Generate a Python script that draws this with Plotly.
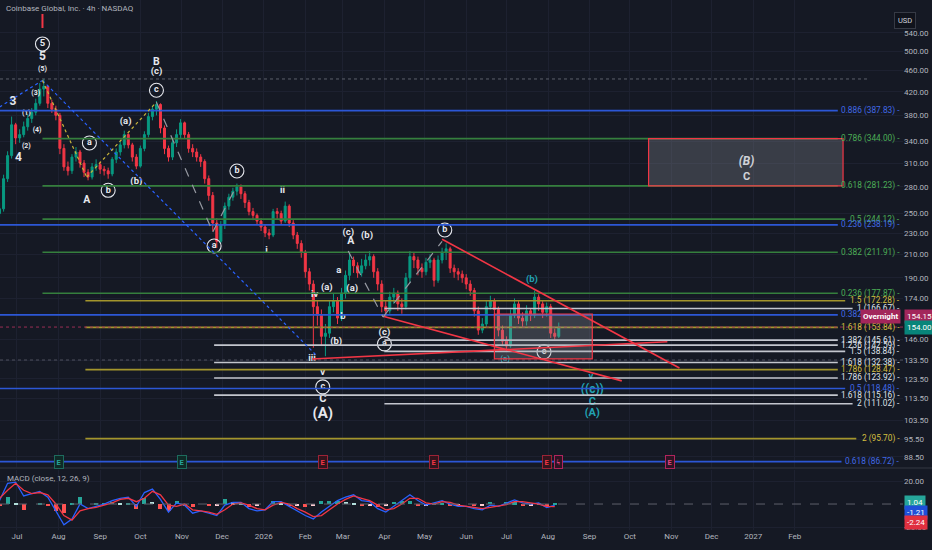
import numpy as np
import pandas as pd
import plotly.graph_objects as go

BG = "#151924"
GRID = "#1d2130"
TXT = "#b2b5be"
UP = "#089981"
DOWN = "#f23645"
TEAL = "#22a3b3"
LABEL = "#e6e8ee"

# 4h chart, every 3 days
bar_dates = pd.date_range("2025-06-18", periods=140, freq="3D")
closes = [255, 290, 320, 365, 345, 350, 362, 375, 385, 400, 425, 430, 400, 390, 380, 330, 305, 300, 318, 325,
          310, 298, 292, 305, 308, 302, 300, 296, 315, 325, 335, 350, 335, 318, 306, 330, 350, 378, 390, 398,
          360, 330, 318, 338, 350, 368, 350, 330, 325, 318, 312, 290, 270, 240, 222, 238, 258, 268, 275, 280,
          272, 262, 252, 248, 242, 236, 230, 228, 252, 250, 242, 258, 240, 228, 220, 212, 195, 185, 168, 162,
          148, 150, 168, 172, 160, 178, 192, 205, 200, 194, 200, 205, 208, 195, 185, 168, 165, 175, 178, 170,
          168, 190, 208, 205, 198, 195, 203, 205, 188, 205, 212, 215, 198, 195, 193, 190, 185, 180, 165, 152,
          156, 168, 172, 166, 152, 145, 142, 162, 170, 160, 158, 165, 162, 175, 170, 164, 168, 150, 148, 154]
highs = [262, 295, 326, 378, 368, 358, 370, 382, 392, 408, 436, 444, 432, 406, 396, 384, 336, 312, 322, 332,
         328, 314, 302, 310, 315, 312, 306, 304, 318, 330, 340, 356, 352, 338, 322, 334, 355, 384, 396, 404,
         400, 364, 334, 344, 358, 374, 370, 354, 336, 330, 322, 315, 294, 274, 245, 242, 262, 272, 279, 284,
         283, 275, 265, 256, 250, 245, 239, 234, 255, 256, 253, 263, 260, 243, 231, 223, 214, 198, 188, 172,
         166, 156, 172, 178, 175, 182, 196, 211, 208, 203, 206, 210, 213, 210, 198, 188, 172, 179, 182, 180,
         174, 194, 213, 212, 208, 202, 207, 210, 207, 209, 216, 220, 217, 201, 198, 196, 193, 188, 182, 168,
         160, 172, 176, 174, 168, 155, 148, 166, 174, 172, 164, 169, 167, 180, 177, 172, 171, 170, 153, 157]
lows = [246, 252, 286, 316, 336, 338, 346, 356, 368, 380, 396, 412, 392, 384, 372, 322, 300, 294, 296, 312,
        304, 292, 288, 289, 300, 296, 294, 290, 293, 310, 320, 330, 330, 312, 302, 304, 326, 346, 372, 380,
        352, 322, 312, 314, 332, 344, 344, 324, 318, 312, 305, 284, 264, 232, 216, 220, 234, 254, 264, 270,
        266, 256, 248, 243, 238, 232, 226, 224, 226, 244, 238, 240, 236, 224, 215, 207, 190, 180, 141, 155,
        142, 136, 147, 164, 156, 158, 174, 188, 194, 190, 191, 197, 200, 190, 180, 164, 161, 163, 170, 165,
        163, 166, 186, 198, 192, 190, 192, 198, 183, 186, 202, 205, 194, 190, 188, 186, 181, 176, 161, 149,
        150, 154, 166, 160, 148, 142, 139, 141, 160, 156, 154, 155, 158, 160, 165, 160, 161, 147, 146, 147]
opens = [250] + closes[:-1]

# MACD (12, 26, 9), every second bar
macd_dates = bar_dates[::2]
macd_line = [3, 18, 19, 7, 9, 11, 6, -6, -18, -13, 0, -4, -2, 0, 3, 5, 6, -2, 10, 13,
             4, -7, 1, -1, -8, -6, -8, -10, -1, 1.5, 1.5, -4, -6, -5, 2, 2, -2, -6, -10, -13,
             -7, -2, 3, 6, 8, 3, 2, -4, -7, -2, 3, 8, 3, -1, 1, 3, 0, -2, -2, -4,
             -5, -1, -2, 1, 3.5, 1, 0, 1, -3, -1.21]
signal_line = [5, 12, 18, 12, 9, 10, 8, 0, -10, -14, -6, -4, -3, -1, 1, 4, 5, 2, 5, 11,
               8, -1, -2, 0, -5, -6, -7, -9, -5, 0, 1, -1, -4, -5, -1, 1.5, 0, -4, -7, -11,
               -10, -5, 0, 4, 7, 5, 3, -1, -5, -4, 0, 5, 5, 1, 0, 2, 1.5, -1, -2, -3,
               -4, -3, -2, -0.5, 2, 2, 1, 0, -2, -2.24]

# Fibonacci levels drawn on the chart
fib_values = [387.83, 344.00, 281.23, 244.12, 238.19, 211.91, 177.87, 172.28, 166.67, 162.21, 153.84,
              145.61, 142.59, 138.84, 132.38, 128.47, 123.92, 118.48, 115.16, 111.02, 95.70, 86.72]
fib_ratios = ["0.886", "0.786", "0.618", "0.5", "0.236", "0.382", "0.236", "1.5", "1", "0.382", "1.618",
              "1.382", "1.236", "1.5", "1.618", "1.786", "1.786", "0.5", "1.618", "2", "2", "0.618"]
fib_sets = ["blue", "green", "green", "green", "blue", "green", "green", "yellow", "white2", "blue", "yellow",
            "white2", "white1", "white2", "white1", "yellow", "white1", "blue", "white1", "white2", "yellow", "blue"]

set_color = {"blue": "#2c57d6", "green": "#357f3d", "yellow": "#a3952c", "white1": "#c3c6ce", "white2": "#c3c6ce"}
set_text = {"blue": "#4169e6", "green": "#4cae56", "yellow": "#d4bf40", "white1": "#dfe1e8", "white2": "#dfe1e8"}
set_start = {"blue": "2025-06-18", "green": "2025-07-20", "yellow": "2025-08-21",
             "white1": "2025-11-25", "white2": "2026-04-01"}

x_lo = pd.Timestamp("2025-06-18 08:00")
x_hi = pd.Timestamp("2027-04-22 17:00")
plot_px = 903.0
FS = 8  # small TradingView label size


def x_at(px):
    return x_lo + (x_hi - x_lo) * (px / plot_px)


fig = go.Figure()

fig.add_trace(go.Candlestick(
    x=bar_dates, open=opens, high=highs, low=lows, close=closes,
    increasing=dict(line=dict(color=UP, width=1), fillcolor=UP),
    decreasing=dict(line=dict(color=DOWN, width=1), fillcolor=DOWN),
    whiskerwidth=0, showlegend=False, hoverinfo="skip",
))

hist = [m - s for m, s in zip(macd_line, signal_line)]
hist_colors = []
for i, h in enumerate(hist):
    prev = hist[i - 1] if i else 0
    if h >= 0:
        hist_colors.append("#26a69a" if h >= prev else "#b2dfdb")
    else:
        hist_colors.append("#ff5252" if h < prev else "#ffcdd2")

fig.add_trace(go.Bar(x=macd_dates, y=hist, marker_color=hist_colors, marker_line_width=0,
                     width=3 * 86400000, yaxis="y2", showlegend=False, hoverinfo="skip"))
fig.add_trace(go.Scatter(x=macd_dates, y=macd_line, mode="lines", line=dict(color="#2962ff", width=1.3),
                         yaxis="y2", showlegend=False, hoverinfo="skip"))
fig.add_trace(go.Scatter(x=macd_dates, y=signal_line, mode="lines", line=dict(color="#f23645", width=1.3),
                         yaxis="y2", showlegend=False, hoverinfo="skip"))

shapes = []
annotations = []

# fib lines + right-hand labels
for val, ratio, s in zip(fib_values, fib_ratios, fib_sets):
    text = f"{ratio} ({val:.2f}) -"
    end_px = 897 - 3.7 * len(text)
    shapes.append(dict(type="line", xref="x", yref="y", x0=set_start[s], x1=x_at(end_px), y0=val, y1=val,
                       line=dict(color=set_color[s], width=1.7)))
    annotations.append(dict(xref="paper", yref="y", x=902 / 932, y=np.log10(val), xanchor="right",
                            yanchor="middle", text=text, showarrow=False,
                            font=dict(size=8.3, color=set_text[s], family="Roboto")))

# dotted price lines
for val, col, x1 in [(443.8, "#5d606b", 870), (154.0, "#9a2f55", 903), (133.8, "#4e515c", 903)]:
    shapes.append(dict(type="line", xref="x", yref="y", x0=x_lo, x1=x_at(x1), y0=val, y1=val,
                       line=dict(color=col, width=1, dash="dot")))

# target boxes
for x0, x1, y0, y1 in [("2026-10-15", "2027-03-09", 281.23, 344.0), ("2026-06-22", "2026-09-03", 134.4, 162.8)]:
    shapes.append(dict(type="rect", xref="x", yref="y", x0=x0, x1=x1, y0=y0, y1=y1,
                       fillcolor="rgba(150,153,163,0.28)", line=dict(color="#f23645", width=1.2)))

# trend lines
for x0, y0, x1, y1 in [("2026-05-14", 224, "2026-11-07", 129.3),
                       ("2026-03-31", 161.3, "2026-09-25", 122.4),
                       ("2026-02-06", 134.4, "2026-10-29", 144.6)]:
    shapes.append(dict(type="line", xref="x", yref="y", x0=x0, y0=y0, x1=x1, y1=y1,
                       line=dict(color="#f23645", width=1.6)))

# wave connectors
paths = [
    ([("2025-06-18", 393.8), ("2025-07-20", 441), ("2026-02-09", 136.7)], "#2962ff", "dot"),
    ([("2025-07-20", 441), ("2025-08-22", 292), ("2025-10-13", 402)], "#c9b53a", "dot"),
    ([("2025-10-13", 402), ("2025-11-24", 231), ("2025-12-12", 282)], "#9598a1", "dash"),
    ([("2026-03-05", 213), ("2026-03-31", 160.7), ("2026-05-14", 222)], "#9598a1", "dash"),
]
for pts, col, dash in paths:
    for (xa, ya), (xb, yb) in zip(pts[:-1], pts[1:]):
        shapes.append(dict(type="line", xref="x", yref="y", x0=xa, y0=ya, x1=xb, y1=yb,
                           line=dict(color=col, width=1.2, dash=dash)))

# pane separator, macd zero line, alert tick
shapes.append(dict(type="line", xref="paper", yref="paper", x0=0, x1=1, y0=1 - 468 / 550, y1=1 - 468 / 550,
                   line=dict(color="#2a2e39", width=1.5)))
shapes.append(dict(type="line", xref="paper", yref="y2", x0=0, x1=plot_px / 932, y0=0, y1=0,
                   line=dict(color="#5d606b", width=1, dash="dash")))
shapes.append(dict(type="line", xref="x", yref="paper", x0="2025-07-20", x1="2025-07-20",
                   y0=1 - 14 / 550, y1=1 - 28 / 550, line=dict(color="#f23645", width=2)))

# Elliott wave labels: date, price, text, size, colour, circled
waves = [
    ("2025-07-20", 515.3, "5", 9.5, LABEL, True), ("2025-07-20", 487.5, "5", 12, LABEL, False),
    ("2025-07-20", 463, "(5)", 7, LABEL, False), ("2025-06-28", 402, "3", 12, LABEL, False),
    ("2025-07-15", 418, "(3)", 7, LABEL, False), ("2025-07-08", 383.8, "(1)", 7, LABEL, False),
    ("2025-07-16", 357, "(4)", 7, LABEL, False), ("2025-07-08", 333.5, "(2)", 7, LABEL, False),
    ("2025-07-02", 316.8, "4", 12, LABEL, False), ("2025-08-24", 337.8, "a", 9, LABEL, True),
    ("2025-09-20", 369.4, "(a)", 9.5, LABEL, False), ("2025-09-07", 276, "b", 9, LABEL, True),
    ("2025-09-28", 286, "(b)", 9.5, LABEL, False), ("2025-08-22", 264.8, "A", 10.5, LABEL, False),
    ("2025-10-13", 477, "B", 10.5, LABEL, False), ("2025-10-13", 457, "(c)", 9.5, LABEL, False),
    ("2025-10-13", 423, "c", 9, LABEL, True), ("2025-11-25", 217.6, "a", 9, LABEL, True),
    ("2025-12-12", 299.7, "b", 9, LABEL, True), ("2026-01-15", 276, "ii", 9.5, LABEL, False),
    ("2026-01-03", 213.2, "i", 9.5, LABEL, False), ("2026-03-05", 230, "(c)", 9.5, LABEL, False),
    ("2026-03-07", 222.3, "A", 10.5, LABEL, False), ("2026-03-19", 227, "(b)", 9.5, LABEL, False),
    ("2026-02-26", 195.7, "a", 9.5, LABEL, False), ("2026-05-16", 233, "b", 9, LABEL, True),
    ("2026-02-08", 176.8, "iv", 9.5, LABEL, False), ("2026-02-17", 181.9, "(a)", 9.5, LABEL, False),
    ("2026-03-08", 181.2, "(a)", 9.5, LABEL, False), ("2026-03-01", 160.9, "b", 9.5, LABEL, False),
    ("2026-02-24", 144.6, "(b)", 9.5, LABEL, False), ("2026-02-06", 134.4, "iii", 9.5, LABEL, False),
    ("2026-02-14", 126.6, "v", 9.5, LABEL, False), ("2026-02-14", 119.3, "c", 9, LABEL, True),
    ("2026-02-14", 113.3, "C", 11, LABEL, False), ("2026-02-14", 106.3, "(A)", 15, LABEL, False),
    ("2026-04-01", 150.1, "(c)", 9.5, LABEL, False), ("2026-04-01", 143.3, "a", 9, LABEL, True),
    ("2026-07-20", 188.3, "(b)", 9.5, TEAL, False), ("2026-06-30", 134.4, "(a)", 8, TEAL, False),
    ("2026-07-29", 138.5, "c", 9, LABEL, True), ("2026-09-02", 124.4, "v", 9.5, TEAL, False),
    ("2026-09-03", 117.7, "((c))", 12, TEAL, False), ("2026-09-03", 111.9, "C", 11, TEAL, False),
    ("2026-09-03", 106.8, "(A)", 11, TEAL, False),
    ("2026-12-27", 311.5, "<i>(B)</i>", 12, LABEL, False), ("2026-12-27", 292.1, "C", 11, LABEL, False),
]
fig.add_trace(go.Scatter(
    x=[w[0] for w in waves], y=[w[1] for w in waves], mode="text",
    text=[f"<b>{w[2]}</b>" for w in waves], textposition="middle center",
    textfont=dict(size=[w[3] for w in waves], color=[w[4] for w in waves], family="Roboto"),
    showlegend=False, hoverinfo="skip", cliponaxis=False,
))
circ = [w for w in waves if w[5]]
fig.add_trace(go.Scatter(
    x=[w[0] for w in circ], y=[w[1] for w in circ], mode="markers",
    marker=dict(symbol="circle-open", size=14, color=[w[4] for w in circ], line=dict(width=1.1)),
    showlegend=False, hoverinfo="skip",
))

# events row (earnings / dividends)
events = [("2025-08-01", "E", "g"), ("2025-11-01", "E", "g"), ("2026-02-14", "E", "r"),
          ("2026-05-08", "E", "r"), ("2026-07-31", "E", "r"), ("2026-08-09", "ϟ", "p"), ("2026-10-31", "E", "p")]
ev_style = {"g": ("#0f2a27", "#1d6b5d", "#26a69a"), "r": ("#33141d", "#9c2336", "#f23645"),
            "p": ("#2e1424", "#b0245c", "#e0417f")}
for d, t, k in events:
    bg, bd, fg = ev_style[k]
    annotations.append(dict(x=d, y=np.log10(86.72), xref="x", yref="y", text=f"<b>{t}</b>", showarrow=False,
                            font=dict(size=7.5, color=fg, family="Roboto"), bgcolor=bg, bordercolor=bd,
                            borderwidth=1, borderpad=1.5))

# header, pane title, price tags
annotations += [
    dict(xref="paper", yref="paper", x=4 / 932, y=1 - 9 / 550, xanchor="left", yanchor="middle",
         text="Coinbase Global, Inc. · 4h · NASDAQ", showarrow=False, font=dict(size=FS, color=TXT, family="Roboto")),
    dict(xref="paper", yref="paper", x=5 / 932, y=1 - 478 / 550, xanchor="left", yanchor="middle",
         text="MACD (close, 12, 26, 9)", showarrow=False, font=dict(size=FS, color=TXT, family="Roboto")),
    dict(xref="paper", yref="paper", x=916 / 932, y=1 - 12 / 550, text="USD", showarrow=False,
         font=dict(size=7.5, color="#d1d4dc", family="Roboto"), bgcolor="#10131c", bordercolor="#363a45",
         borderwidth=1, borderpad=3),
    dict(xref="paper", yref="y", x=901 / 932, y=np.log10(161.3), xanchor="right", text="<b>Overnight</b>",
         showarrow=False, font=dict(size=FS, color="white", family="Roboto"), bgcolor="#a3265b", borderpad=2),
]
for val, ypos, bg, axis in [("154.15", np.log10(161.3), "#a3265b", "y"), ("154.00", np.log10(153.7), "#08857a", "y"),
                            ("1.04", 1.3, "#26a69a", "y2"), ("-1.21", -7.0, "#1f4fd8", "y2"),
                            ("-2.24", -16.1, "#e0303f", "y2")]:
    annotations.append(dict(xref="paper", yref=axis, x=904 / 932, y=ypos, xanchor="left", text=val,
                            showarrow=False, font=dict(size=FS, color="white", family="Roboto"),
                            bgcolor=bg, borderpad=2))

month_ticks = pd.date_range("2025-07-01", "2027-02-01", freq="MS")
month_text = [str(d.year) if d.month == 1 else d.strftime("%b") for d in month_ticks]
price_ticks = [540, 500, 460, 420, 380, 340, 310, 280, 250, 230, 210, 190, 174, 146, 133.5, 123.5,
               113.5, 103.5, 95.5, 88.5]

fig.update_layout(
    width=932, height=550, margin=dict(l=0, r=0, t=0, b=0, autoexpand=False),
    paper_bgcolor=BG, plot_bgcolor=BG, showlegend=False, bargap=0,
    font=dict(family="Roboto", color=TXT, size=FS),
    xaxis=dict(domain=[0, plot_px / 932], range=[x_lo, x_hi], anchor="y2", type="date", automargin=False,
               tickvals=month_ticks, ticktext=month_text, showgrid=True, gridcolor=GRID,
               zeroline=False, showline=False, ticks="", rangeslider=dict(visible=False),
               tickfont=dict(size=FS, color=TXT)),
    yaxis=dict(domain=[1 - 468 / 550, 1], type="log", range=[np.log10(84.4), np.log10(621.6)], automargin=False,
               side="right", anchor="x", tickvals=price_ticks, ticktext=[f"{v:.2f}" for v in price_ticks],
               showgrid=True, gridcolor=GRID, zeroline=False, ticks="", tickfont=dict(size=FS, color=TXT)),
    yaxis2=dict(domain=[1 - 530 / 550, 1 - 470 / 550], range=[-22.6, 29.6], side="right", anchor="x",
                automargin=False, tickvals=[20, -20], ticktext=["20.00", "-20.00"], showgrid=True,
                gridcolor=GRID, zeroline=False, ticks="", tickfont=dict(size=FS, color=TXT)),
    shapes=shapes, annotations=annotations,
)

# drop the page's default body margin so the 932x550 figure fills the window
fig.write_html("out.html", config={"displayModeBar": False},
               post_script="document.body.style.margin='0';document.body.style.background='#151924';")
